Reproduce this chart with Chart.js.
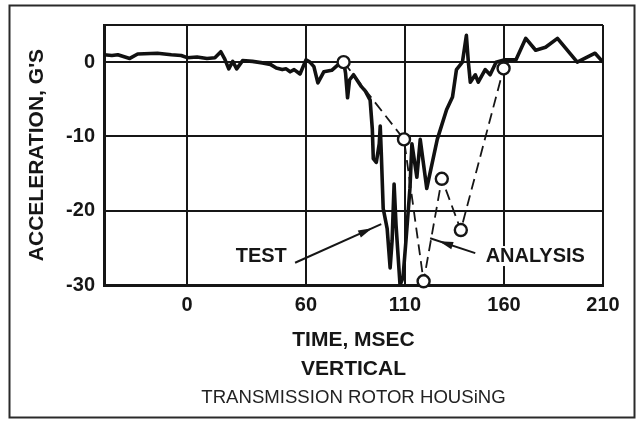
<!DOCTYPE html>
<html>
<head>
<meta charset="utf-8">
<script src="https://cdn.jsdelivr.net/npm/chart.js@4.4.1/dist/chart.umd.min.js"></script>
<style>
  html, body { margin: 0; padding: 0; background: #fff; }
  canvas { display: block; }
</style>
</head>
<body>
<canvas id="myChart" width="638" height="421"></canvas>
<script>
// data ---------------------------------------------------------------------
const xTicks = [0, 60, 110, 160, 210];
const yTicks = [-30, -20, -10, 0, 5];   // 5 = top edge of the box, no label

// test trace (time in msec, acceleration in G's)
const testTime = [-42, -38, -35, -29, -25, -15, -8, -3, 0, 5, 10, 14, 17, 19, 21, 23, 25, 28, 33, 38,
  42, 45, 48, 50, 52, 54, 57, 60, 62, 64, 66, 69, 73, 76, 79, 80, 81, 82, 84, 88,
  90, 92.4, 93.5, 94, 95.5, 97, 97.5, 98, 99, 101, 102.5, 103.5, 104.5, 105.5, 107.5, 109, 110.5, 112.5, 113.5, 116,
  117.7, 121, 126.3, 131, 134, 136, 139, 141, 142, 143, 145.5, 147, 150.5, 153, 156, 160, 166, 171, 176, 181,
  187, 197, 206, 210];
const testAccel = [1.0, 0.9, 1.0, 0.5, 1.1, 1.2, 1.0, 0.9, 0.6, 0.7, 0.5, 0.6, 1.4, 0.4, -0.9, 0.1, -0.9, 0.2, 0.1, -0.1,
  -0.3, -0.8, -1.0, -0.9, -1.3, -1.0, -1.6, 0.3, 0.0, -0.6, -2.8, -1.3, -1.1, -0.4, 0.1, -1.5, -4.8, -2.4, -1.7, -3.3,
  -3.9, -5.1, -9, -13, -13.5, -11, -8.6, -12, -19.7, -22.4, -27.7, -24, -16.4, -22, -30, -29, -24, -17, -11, -15.5,
  -10.4, -17, -10.4, -6.4, -4.7, -1, 0, 3.6, 0, -2.7, -1.7, -2.7, -1, -1.7, 0, 0.3, 0.3, 3.2, 1.6, 2,
  3.2, 0, 1.2, 0];

// analysis points
const analysisTime = [79, 109.5, 119.4, 128.6, 138.2, 159.8];
const analysisAccel = [0, -10.4, -29.5, -15.7, -22.6, -0.85];

// label annotations: text position and arrow (start -> tip), in data units
const testLabel = { text: 'TEST', x: 37.4, y: -26.1, from: [54.5, -27], to: [98, -21.8] };
const analysisLabel = { text: 'ANALYSIS', x: 175.8, y: -26.1, from: [145.5, -25.7], to: [122.7, -23.7] };

// ---------------------------------------------------------------------------
const ink = '#161616';
const fontFamily = "'Liberation Sans', Arial, Helvetica, sans-serif";

const toXY = (xs, ys) => xs.map((x, i) => ({ x: x, y: ys[i] }));

// white page, outer frame, label texts and arrows
const decorPlugin = {
  id: 'decor',
  beforeDraw(chart) {
    const ctx = chart.ctx;
    ctx.save();
    ctx.fillStyle = '#fff';
    ctx.fillRect(0, 0, chart.width, chart.height);
    ctx.restore();
  },
  afterDraw(chart) {
    const ctx = chart.ctx;
    const xs = chart.scales.x, ys = chart.scales.y;
    ctx.save();
    ctx.strokeStyle = '#2a2a2a';
    ctx.lineWidth = 2;
    ctx.strokeRect(9.5, 5.5, 625, 412);

    [testLabel, analysisLabel].forEach(lab => {
      // text with a white backing so the grid does not run through it
      ctx.font = 'bold 20px ' + fontFamily;
      ctx.textAlign = 'center';
      ctx.textBaseline = 'middle';
      const px = xs.getPixelForValue(lab.x), py = ys.getPixelForValue(lab.y);
      const w = ctx.measureText(lab.text).width;
      ctx.fillStyle = '#fff';
      ctx.fillRect(px - w / 2 - 3, py - 10, w + 6, 20);
      ctx.fillStyle = ink;
      ctx.fillText(lab.text, px, py);

      // arrow
      const x1 = xs.getPixelForValue(lab.from[0]), y1 = ys.getPixelForValue(lab.from[1]);
      const x2 = xs.getPixelForValue(lab.to[0]), y2 = ys.getPixelForValue(lab.to[1]);
      ctx.strokeStyle = ink;
      ctx.lineWidth = 2;
      ctx.beginPath();
      ctx.moveTo(x1, y1);
      ctx.lineTo(x2, y2);
      ctx.stroke();
      const ang = Math.atan2(y2 - y1, x2 - x1);
      const len = Math.hypot(x2 - x1, y2 - y1);
      const back = Math.min(10, len * 0.2);
      const hx = x2 - Math.cos(ang) * back, hy = y2 - Math.sin(ang) * back;
      ctx.fillStyle = ink;
      ctx.beginPath();
      ctx.moveTo(hx, hy);
      ctx.lineTo(hx - Math.cos(ang) * 14 + Math.sin(ang) * 3.8, hy - Math.sin(ang) * 14 - Math.cos(ang) * 3.8);
      ctx.lineTo(hx - Math.cos(ang) * 14 - Math.sin(ang) * 3.8, hy - Math.sin(ang) * 14 + Math.cos(ang) * 3.8);
      ctx.closePath();
      ctx.fill();
    });
    ctx.restore();
  }
};

const ctx = document.getElementById('myChart').getContext('2d');
const myChart = new Chart(ctx, {
  type: 'line',
  data: {
    datasets: [
      {
        label: 'ANALYSIS',
        data: toXY(analysisTime, analysisAccel),
        borderColor: ink,
        borderWidth: 1.8,
        borderDash: [11, 6],
        pointRadius: 6,
        pointBackgroundColor: '#fff',
        pointBorderColor: ink,
        pointBorderWidth: 2.4,
        tension: 0,
        clip: false
      },
      {
        label: 'TEST',
        data: toXY(testTime, testAccel),
        borderColor: '#111',
        borderWidth: 3.6,
        borderJoinStyle: 'round',
        pointRadius: 0,
        tension: 0
      }
    ]
  },
  options: {
    responsive: false,
    animation: false,
    devicePixelRatio: 1,
    layout: { padding: { left: 10, right: 35, top: 25, bottom: 12 } },
    plugins: {
      legend: { display: false },
      tooltip: { enabled: false },
      title: {
        display: true,
        position: 'bottom',
        fullSize: false,
        text: 'TRANSMISSION ROTOR HOUSiNG',
        color: '#222',
        font: { family: fontFamily, size: 18.6, weight: 'normal', lineHeight: 1.16 },
        padding: 0
      }
    },
    scales: {
      x: {
        type: 'linear',
        min: -42,
        max: 210,
        afterBuildTicks: scale => { scale.ticks = xTicks.map(v => ({ value: v })); },
        afterFit: scale => { scale.height = 102.4; },
        grid: { color: ink, lineWidth: 2, drawTicks: false },
        border: { display: true, color: ink, width: 3 },
        ticks: {
          color: ink,
          padding: 8,
          maxRotation: 0,
          font: { family: fontFamily, size: 20, weight: 'bold' }
        },
        title: {
          display: true,
          text: ['TIME, MSEC', 'VERTICAL'],
          color: ink,
          font: { family: fontFamily, size: 21, weight: 'bold', lineHeight: 1.38 },
          padding: { top: 0, bottom: 4 }
        }
      },
      y: {
        type: 'linear',
        min: -30,
        max: 5,
        afterBuildTicks: scale => { scale.ticks = yTicks.map(v => ({ value: v })); },
        afterFit: scale => { scale.width = 94; },
        grid: { color: ink, lineWidth: 2, drawTicks: false },
        border: { display: true, color: ink, width: 3 },
        ticks: {
          color: ink,
          padding: 9,
          font: { family: fontFamily, size: 20, weight: 'bold' },
          callback: v => (v === 5 ? '' : v)
        },
        title: {
          display: true,
          text: "ACCELERATION, G'S",
          color: ink,
          font: { family: fontFamily, size: 21, weight: 'bold', lineHeight: 1.2 },
          padding: { top: 15, bottom: 0 }
        }
      }
    }
  },
  plugins: [decorPlugin]
});
</script>
</body>
</html>
